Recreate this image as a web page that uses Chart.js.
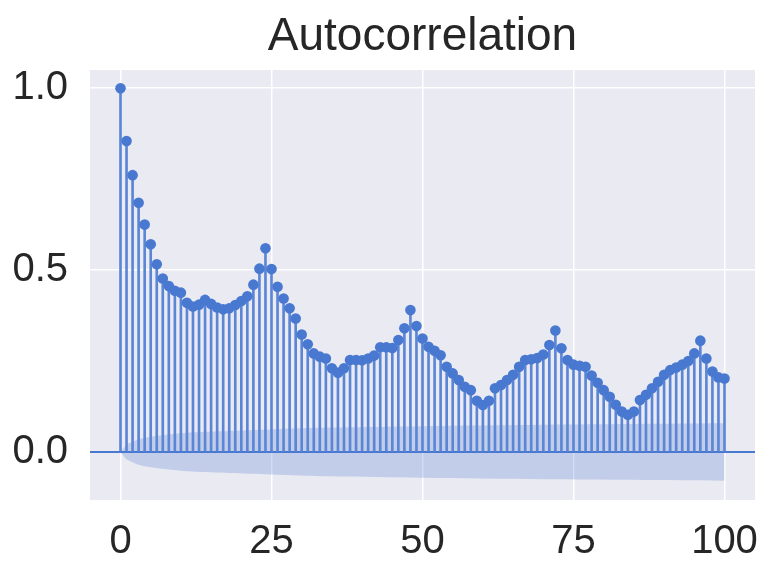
<!DOCTYPE html>
<html>
<head>
<meta charset="utf-8">
<script src="https://cdn.jsdelivr.net/npm/chart.js@4.4.1/dist/chart.umd.min.js"></script>
<style>
  html, body { margin: 0; padding: 0; background: #fff; }
  #box { width: 778px; height: 574px; }
</style>
</head>
<body>
<div id="box"><canvas id="acfChart"></canvas></div>
<script>
///////////////////////////////// DONNEES

// valeurs ACF, lag 0 -> 100
let acfValues = [
    1.0, 0.855, 0.761, 0.685, 0.625, 0.571, 0.516, 0.477, 0.456, 0.443,
    0.438, 0.41, 0.40, 0.405, 0.418, 0.407, 0.397, 0.392, 0.395, 0.404,
    0.415, 0.428, 0.46, 0.504, 0.56, 0.503, 0.454, 0.422, 0.395, 0.367,
    0.323, 0.296, 0.271, 0.262, 0.257, 0.23, 0.218, 0.23, 0.253, 0.253,
    0.252, 0.257, 0.265, 0.288, 0.288, 0.286, 0.308, 0.34, 0.39, 0.346,
    0.312, 0.289, 0.278, 0.266, 0.234, 0.216, 0.198, 0.179, 0.17, 0.141,
    0.129, 0.141, 0.175, 0.184, 0.198, 0.212, 0.234, 0.253, 0.255, 0.258,
    0.268, 0.294, 0.334, 0.285, 0.253, 0.24, 0.237, 0.234, 0.21, 0.19,
    0.17, 0.152, 0.13, 0.111, 0.102, 0.111, 0.143, 0.157, 0.175, 0.193,
    0.212, 0.225, 0.232, 0.24, 0.25, 0.271, 0.306, 0.257, 0.221, 0.205,
    0.202
];
let lags = acfValues.map((v, i) => i);

// intervalle de confiance (demi-largeur) lu a quelques lags
let bandLags = [0, 1, 2, 3, 5, 8, 12, 18, 25, 35, 50, 70, 100];
let bandHalf = [0, 0.02, 0.028, 0.035, 0.042, 0.048, 0.054, 0.058, 0.062, 0.067, 0.071, 0.075, 0.079];

let xTicks = [0, 25, 50, 75, 100];
let yTicks = [0, 0.5, 1.0];
let titleText = "Autocorrelation";

///////////////////////////////// STYLE

let blue = "#4878d0";
let stemBlue = "#5b86d6";
let bandBlue = "rgba(72, 120, 208, 0.25)";
let textColor = "#262626";
let fontName = "'Liberation Sans', Arial, sans-serif";

// fond gris du graphe (style seaborn)
let plotBackground = {
    id: 'plotBackground',
    beforeDraw(chart) {
        let a = chart.chartArea;
        let ctx = chart.ctx;
        ctx.save();
        ctx.fillStyle = "#eaeaf2";
        ctx.fillRect(a.left, a.top, a.right - a.left, a.bottom - a.top);
        ctx.restore();
    }
};

// titre centre sur la zone du graphe (comme matplotlib)
let axesTitle = {
    id: 'axesTitle',
    afterDraw(chart) {
        let a = chart.chartArea;
        let ctx = chart.ctx;
        ctx.save();
        ctx.fillStyle = textColor;
        ctx.font = "46px " + fontName;
        ctx.textAlign = "center";
        ctx.textBaseline = "alphabetic";
        ctx.fillText(titleText, (a.left + a.right) / 2, 50);
        ctx.restore();
    }
};

///////////////////////////////// GRAPH ACF

let chart = document.getElementById("acfChart");
let acfChart = new Chart(chart, {
    type: 'line',
    data: {
        datasets: [
            {
                // points
                type: 'scatter',
                data: lags.map((l, i) => ({x: l, y: acfValues[i]})),
                backgroundColor: blue,
                borderColor: blue,
                pointRadius: 5.3,
                pointBorderWidth: 0,
                order: 1
            },
            {
                // tiges
                type: 'bar',
                data: lags.map((l, i) => ({x: l, y: acfValues[i]})),
                backgroundColor: stemBlue,
                borderWidth: 0,
                barThickness: 2,
                order: 2
            },
            {
                // ligne zero
                data: [{x: -5.05, y: 0}, {x: 105.05, y: 0}],
                borderColor: blue,
                borderWidth: 2,
                pointRadius: 0,
                order: 3
            },
            {
                // bande haute
                data: bandLags.map((l, i) => ({x: l, y: bandHalf[i]})),
                borderWidth: 0,
                borderColor: 'rgba(0,0,0,0)',
                pointRadius: 0,
                fill: '+1',
                backgroundColor: bandBlue,
                tension: 0.3,
                order: 4
            },
            {
                // bande basse
                data: bandLags.map((l, i) => ({x: l, y: -bandHalf[i]})),
                borderWidth: 0,
                borderColor: 'rgba(0,0,0,0)',
                pointRadius: 0,
                fill: false,
                tension: 0.3,
                order: 4
            }
        ]
    },
    options: {
        responsive: true,
        maintainAspectRatio: false,
        animation: false,
        layout: {
            padding: {top: 70, left: 0, right: 23, bottom: 0}
        },
        plugins: {
            legend: {display: false},
            tooltip: {enabled: false},
            title: {display: false}
        },
        scales: {
            x: {
                type: 'linear',
                min: -5.05,
                max: 105.05,
                offset: false,
                afterBuildTicks: function(scale) {
                    scale.ticks = xTicks.map(v => ({value: v}));
                },
                afterFit: function(scale) {
                    scale.height = 74;
                },
                grid: {color: "#ffffff", lineWidth: 1.5, drawTicks: false, offset: false},
                border: {display: false},
                ticks: {
                    color: textColor,
                    padding: 18,
                    maxRotation: 0,
                    font: {family: fontName, size: 40}
                }
            },
            y: {
                type: 'linear',
                min: -0.132,
                max: 1.05,
                afterBuildTicks: function(scale) {
                    scale.ticks = yTicks.map(v => ({value: v}));
                },
                afterFit: function(scale) {
                    scale.width = 90;
                },
                grid: {color: "#ffffff", lineWidth: 1.5, drawTicks: false},
                border: {display: false},
                ticks: {
                    color: textColor,
                    padding: 22,
                    font: {family: fontName, size: 40},
                    callback: function(value) { return value.toFixed(1); }
                }
            }
        }
    },
    plugins: [plotBackground, axesTitle]
});
</script>
</body>
</html>
